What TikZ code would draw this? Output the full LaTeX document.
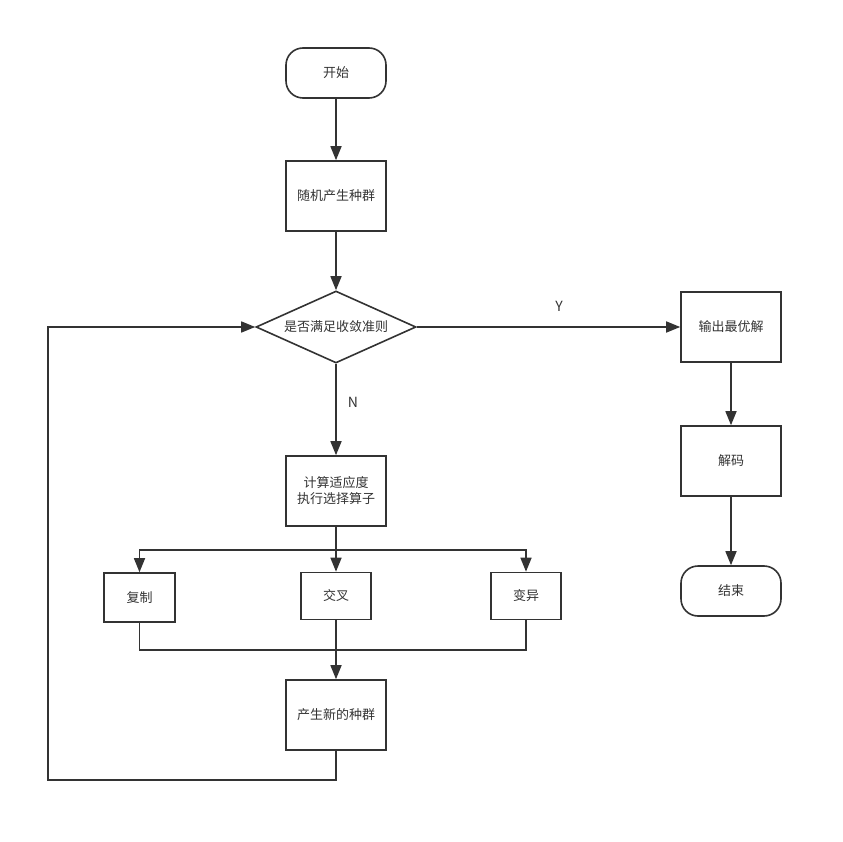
\documentclass[tikz,border=0pt]{standalone}
\usepackage{fontspec}
\newfontfamily\cjk{Noto Sans CJK SC}
\usepackage{tikz}
\usetikzlibrary{arrows.meta, calc, positioning, shapes.geometric}
\definecolor{flowink}{HTML}{333333}
\tikzset{
  flowline/.style  = {draw=flowink, line width=1.6pt},
  flowarrow/.style = {flowline, -{Triangle[length=14pt, width=11pt]}},
  flowtext/.style  = {font=\cjk\fontsize{13}{16}\selectfont, text=flowink,
                      align=center},
  flowbox/.style   = {flowtext, rectangle, draw=flowink, line width=1.6pt,
                      fill=white, minimum width=100pt, minimum height=70pt,
                      inner sep=0pt},
  flowsmall/.style = {flowbox, minimum width=70pt, minimum height=47pt},
  flowterm/.style  = {flowbox, minimum height=50pt, rounded corners=17pt},
  flowjudge/.style = {flowtext, diamond, draw=flowink, line width=1.6pt,
                      fill=white, minimum width=160pt, minimum height=72pt,
                      aspect=2.2, inner sep=0pt},
  flowlabel/.style = {font=\cjk\fontsize{14}{16}\selectfont, text=flowink,
                      inner sep=0pt},
}

\begin{document}
\begin{tikzpicture}[x=1pt, y=-1pt]
  \useasboundingbox (0,0) rectangle (843,842);
  \node[flowterm]  (start)  at (336,73)  {开始};
  \node[flowbox]   (init)   at (336,196) {随机产生种群};
  \node[flowjudge] (judge)  at (336,327) {是否满足收敛准则};
  \node[flowbox]   (calc)   at (336,491) {计算适应度\\执行选择算子};
  \node[flowsmall, minimum width=71pt, minimum height=49pt] (copy) at (139.5,597.5) {复制};
  \node[flowsmall] (cross)  at (336,596) {交叉};
  \node[flowsmall] (mutate) at (526,596) {变异};
  \node[flowbox]   (newpop) at (336,715) {产生新的种群};
  \node[flowbox]   (best)   at (731,327) {输出最优解};
  \node[flowbox]   (decode) at (731,461) {解码};
  \node[flowterm]  (stop)   at (731,591) {结束};
  \coordinate (fork)  at (336,550);
  \coordinate (merge) at (336,650);
  \coordinate (loop)  at (48,780);
  \draw[flowarrow] (start) -- (init);
  \draw[flowarrow] (init) -- (judge);
  \draw[flowarrow] (judge) -- (best);
  \node[flowlabel] (yes) at (559,306) {Y};
  \draw[flowarrow] (judge) -- (calc);
  \node[flowlabel] (no) at (353,402) {N};
  \draw[flowline] (calc.south) -- (fork);
  \draw[flowarrow] (fork) -| (copy.north);
  \draw[flowarrow] (fork) -- (cross.north);
  \draw[flowarrow] (fork) -| (mutate.north);
  \draw[flowline] (copy.south) |- (merge);
  \draw[flowline] (mutate.south) |- (merge);
  \draw[flowarrow] (cross.south) -- (newpop.north);
  \draw[flowarrow] (newpop.south) |- (loop) |- (judge.west);
  \draw[flowarrow] (best) -- (decode);
  \draw[flowarrow] (decode) -- (stop);
\end{tikzpicture}
\end{document}
